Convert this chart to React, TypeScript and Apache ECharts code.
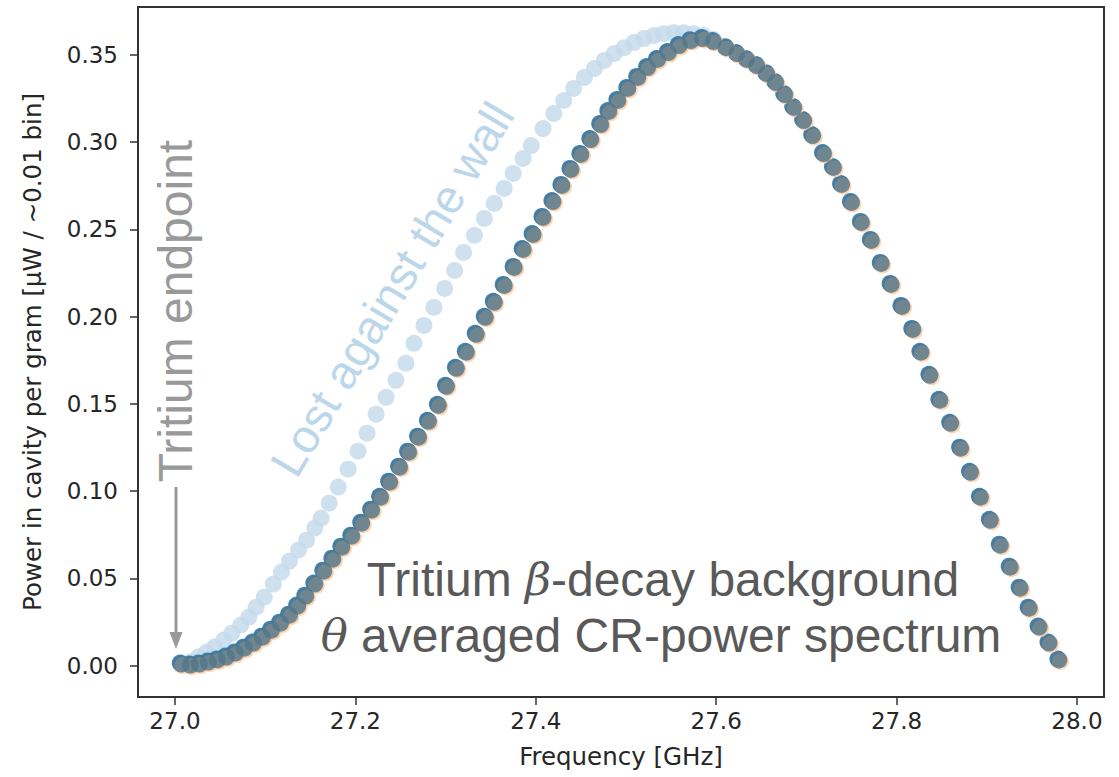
import React, { useEffect, useRef } from "react";
import * as echarts from "echarts";

// Dark series (theta averaged CR-power spectrum, with wall loss)
const darkX = [
  27.007, 27.017, 27.027, 27.037, 27.047, 27.057, 27.067, 27.077, 27.087, 27.097,
  27.107, 27.117, 27.127, 27.136, 27.145, 27.155, 27.165, 27.175, 27.185, 27.196,
  27.207, 27.218, 27.228, 27.238, 27.249, 27.259, 27.270, 27.281, 27.292, 27.301,
  27.312, 27.323, 27.334, 27.344, 27.354, 27.365, 27.376, 27.386, 27.397, 27.408,
  27.419, 27.429, 27.439, 27.450, 27.461, 27.472, 27.481, 27.491, 27.502, 27.513,
  27.524, 27.535, 27.547, 27.559, 27.572, 27.585, 27.597, 27.611, 27.623, 27.634,
  27.645, 27.656, 27.666, 27.676, 27.686, 27.697, 27.707, 27.719, 27.730, 27.739,
  27.750, 27.761, 27.772, 27.783, 27.794, 27.806, 27.818, 27.827, 27.837, 27.848,
  27.860, 27.871, 27.882, 27.893, 27.904, 27.915, 27.926, 27.937, 27.947, 27.958,
  27.969, 27.980,
];
const darkY = [
  0.0009, 0.0003, 0.0009, 0.002, 0.0032, 0.0049, 0.0072, 0.01, 0.0129, 0.0163,
  0.0203, 0.0243, 0.0289, 0.0341, 0.0398, 0.0467, 0.0541, 0.061, 0.0679, 0.0742,
  0.0816, 0.0891, 0.0965, 0.1051, 0.1137, 0.1223, 0.1309, 0.14, 0.1492, 0.1601,
  0.1704, 0.1796, 0.1899, 0.1996, 0.2082, 0.2179, 0.2282, 0.2385, 0.2471, 0.2569,
  0.266, 0.2752, 0.2844, 0.293, 0.3015, 0.3101, 0.3176, 0.3239, 0.3308, 0.3371,
  0.3428, 0.3474, 0.3514, 0.3554, 0.3582, 0.3594, 0.3577, 0.3542, 0.3508, 0.3474,
  0.3439, 0.3393, 0.3342, 0.3273, 0.3199, 0.3124, 0.3038, 0.2935, 0.2855, 0.2758,
  0.2655, 0.254, 0.2437, 0.2305, 0.2185, 0.2059, 0.1927, 0.1796, 0.1664, 0.1521,
  0.1389, 0.1246, 0.1108, 0.0965, 0.0833, 0.069, 0.0564, 0.0444, 0.0329, 0.0221,
  0.0129, 0.0032,
];

// Light series (without wall loss)
const lightX = [
  27.007, 27.017, 27.026, 27.035, 27.044, 27.054, 27.063, 27.073, 27.082, 27.090,
  27.099, 27.109, 27.118, 27.127, 27.137, 27.146, 27.155, 27.162, 27.171, 27.181,
  27.192, 27.203, 27.213, 27.223, 27.234, 27.245, 27.256, 27.265, 27.276, 27.287,
  27.299, 27.310, 27.320, 27.332, 27.343, 27.354, 27.365, 27.375, 27.386, 27.395,
  27.408, 27.420, 27.431, 27.442, 27.454, 27.465, 27.476, 27.487, 27.498, 27.509,
  27.520, 27.531, 27.542, 27.553, 27.564, 27.575, 27.586, 27.597,
];
const lightY = [
  0.0009, 0.002, 0.0049, 0.0077, 0.0106, 0.0146, 0.0186, 0.0232, 0.0278, 0.0335,
  0.0392, 0.0467, 0.0536, 0.0599, 0.0662, 0.0719, 0.0788, 0.0845, 0.0931, 0.1023,
  0.1126, 0.1229, 0.1332, 0.1441, 0.1538, 0.1635, 0.1733, 0.1847, 0.195, 0.2053,
  0.2162, 0.2265, 0.2368, 0.2466, 0.2563, 0.2649, 0.2735, 0.2821, 0.2907, 0.2981,
  0.3078, 0.3164, 0.3239, 0.3308, 0.3371, 0.3422, 0.3468, 0.3508, 0.3542, 0.3571,
  0.3594, 0.3611, 0.3622, 0.3628, 0.3628, 0.3622, 0.3611, 0.3588,
];

const xTicks = [27.0, 27.2, 27.4, 27.6, 27.8, 28.0];
const yTicks = [0.0, 0.05, 0.1, 0.15, 0.2, 0.25, 0.3, 0.35];

const pairs = (xs: number[], ys: number[]) => xs.map((x, i) => [x, ys[i]]);

export default function App() {
  const ref = useRef<HTMLDivElement>(null);
  useEffect(() => {
    if (!ref.current) return;
    const chart = echarts.init(ref.current, null, { renderer: "svg" });
    const tickFont = { fontFamily: "DejaVu Sans", fontSize: 23, color: "#262626" };
    const nameFont = { fontFamily: "DejaVu Sans", fontSize: 24.5, color: "#262626" };
    const bigFont = "Liberation Sans";
    chart.setOption({
      animation: false,
      backgroundColor: "#fff",
      grid: {
        left: 138,
        right: 15,
        top: 7,
        bottom: 80,
        show: true,
        borderColor: "#333",
        borderWidth: 2,
        backgroundColor: "transparent",
      },
      xAxis: {
        type: "value",
        min: 26.959,
        max: 28.03,
        name: "Frequency [GHz]",
        nameLocation: "middle",
        nameGap: 47,
        nameTextStyle: { ...nameFont },
        axisLine: { show: true, onZero: false, lineStyle: { color: "#333", width: 2 } },
        axisTick: { show: true, length: 8, customValues: xTicks, lineStyle: { color: "#333", width: 1.5 } },
        axisLabel: {
          ...tickFont,
          margin: 12,
          customValues: xTicks,
          formatter: (v: number) => v.toFixed(1),
        },
        splitLine: { show: false },
      },
      yAxis: {
        type: "value",
        min: -0.018,
        max: 0.3775,
        name: "Power in cavity per gram [μW / ~0.01 bin]",
        nameLocation: "middle",
        nameGap: 93,
        nameTextStyle: { ...nameFont },
        axisLine: { show: true, onZero: false, lineStyle: { color: "#333", width: 2 } },
        axisTick: { show: true, length: 8, customValues: yTicks, lineStyle: { color: "#333", width: 1.5 } },
        axisLabel: {
          ...tickFont,
          margin: 20,
          customValues: yTicks,
          formatter: (v: number) => v.toFixed(2),
        },
        splitLine: { show: false },
      },
      series: [
        {
          type: "scatter",
          data: pairs(lightX, lightY),
          symbolSize: 17,
          itemStyle: { color: "#c3d9eb" },
          z: 1,
        },
        {
          type: "scatter",
          data: pairs(darkX, darkY),
          symbolSize: 17,
          symbolOffset: [-1, -1],
          itemStyle: { color: "#2a78b2", opacity: 0.9 },
          z: 2,
        },
        {
          type: "scatter",
          data: pairs(darkX, darkY),
          symbolSize: 17,
          symbolOffset: [1.5, 1.5],
          itemStyle: { color: "#ffcfa6", opacity: 0.9 },
          z: 3,
        },
        {
          type: "scatter",
          data: pairs(darkX, darkY),
          symbolSize: 17,
          itemStyle: { color: "#50758a" },
          z: 4,
        },
      ],
      graphic: [
        {
          type: "line",
          shape: { x1: 176, y1: 487, x2: 176, y2: 636 },
          style: { stroke: "#9a9a9a", lineWidth: 3 },
          z: 10,
        },
        {
          type: "polygon",
          shape: { points: [[169.5, 632], [182.5, 632], [176, 649]] },
          style: { fill: "#9a9a9a" },
          z: 10,
        },
        {
          type: "text",
          x: 175,
          y: 311,
          rotation: Math.PI / 2,
          style: {
            text: "Tritium endpoint",
            fontFamily: bigFont,
            fontSize: 48,
            fill: "#999999",
            align: "center",
            verticalAlign: "middle",
          },
          z: 10,
        },
        {
          type: "text",
          x: 392,
          y: 289,
          rotation: (59 * Math.PI) / 180,
          style: {
            text: "Lost against the wall",
            fontFamily: bigFont,
            fontSize: 47,
            fill: "#bcd6ea",
            align: "center",
            verticalAlign: "middle",
          },
          z: 10,
        },
        {
          type: "text",
          x: 663,
          y: 579,
          style: {
            text: "Tritium {g|β}-decay background",
            fontFamily: bigFont,
            fontSize: 48,
            fill: "#595959",
            align: "center",
            verticalAlign: "middle",
            rich: {
              g: { fontFamily: "DejaVu Serif", fontStyle: "italic", fontSize: 45, fill: "#595959" },
            },
          },
          z: 10,
        },
        {
          type: "text",
          x: 661,
          y: 635,
          style: {
            text: "{g|θ} averaged CR-power spectrum",
            fontFamily: bigFont,
            fontSize: 48,
            fill: "#595959",
            align: "center",
            verticalAlign: "middle",
            rich: {
              g: { fontFamily: "DejaVu Serif", fontStyle: "italic", fontSize: 45, fill: "#595959" },
            },
          },
          z: 10,
        },
      ],
    });
    return () => chart.dispose();
  }, []);
  return (
    <div
      ref={ref}
      style={{ position: "fixed", left: 0, top: 0, width: 1119, height: 777, background: "#fff" }}
    />
  );
}
